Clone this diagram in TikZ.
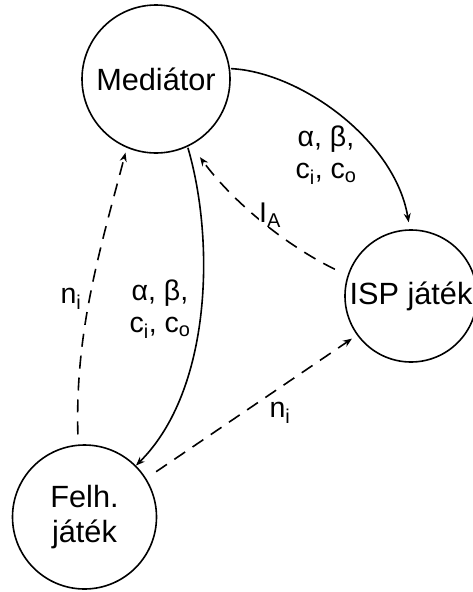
\documentclass[tikz,border=0pt]{standalone}
\usepackage{fontspec}
\setmainfont{Liberation Sans}
\usetikzlibrary{arrows.meta}
\begin{document}
\begin{tikzpicture}[x=1pt,y=-1pt,
  state/.style={draw,circle,line width=1.6pt,inner sep=0pt,
    font=\fontsize{30.7}{35}\selectfont,align=center},
  lbl/.style={font=\fontsize{28.5}{32}\selectfont,align=center,inner sep=0pt},
  flow/.style={line width=1.6pt,-{Stealth[length=9pt,width=7pt]}},
  dashflow/.style={flow,dash pattern=on 13pt off 9pt}]
\useasboundingbox (0,0) rectangle (472,592);

% players
\node[state,minimum size=148pt] (med)  at (156,79)   {Mediátor};
\node[state,minimum size=132pt] (isp)  at (411,296)  {ISP játék};
\node[state,minimum size=144pt] (felh) at (84.5,517) {Felh.\\játék};

% mediator sends parameters to both games
\draw[flow,shorten <=1pt,shorten >=7pt]
  (med.8) .. controls (300,72) and (395,140) .. (isp.91);
\draw[flow,shorten <=1pt]
  (med.-65) .. controls (215,240) and (212,390) .. (felh.45);

% feedback
\draw[dashflow,shorten <=14pt,shorten >=15pt]
  (isp.162) .. controls (285,245) and (232,201) .. (med.-62);
\draw[dashflow,shorten <=10pt,shorten >=5pt]
  (felh.95) .. controls (75,330) and (100,250) .. (med.-113);
\draw[dashflow,shorten <=12pt,shorten >=6pt]
  (felh.32) -- (isp.-144);

% labels
\node[lbl] (p1) at (326,155) {α, β,\\c\textsubscript{i}, c\textsubscript{o}};
\node[lbl] (p2) at (160,309) {α, β,\\c\textsubscript{i}, c\textsubscript{o}};
\node[lbl,fill=white] (ia) at (270,215) {I\textsubscript{A}};
\node[lbl] (n1) at (71,299) {n\textsubscript{i}};
\node[lbl] (n2) at (280,413) {n\textsubscript{i}};
\end{tikzpicture}
\end{document}
